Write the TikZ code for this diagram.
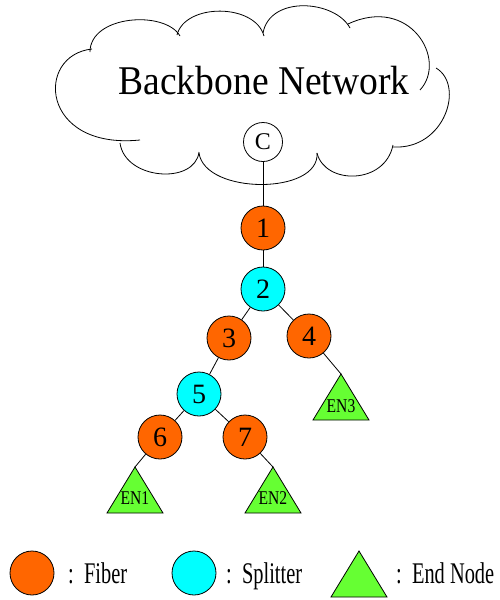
\documentclass[tikz,border=0pt]{standalone}
\usepackage{fontspec}
\usepackage{graphicx}
\setmainfont{Liberation Serif}
\definecolor{fibercol}{HTML}{FF6600}
\definecolor{splitcol}{HTML}{00FFFF}
\definecolor{endcol}{HTML}{66FF33}
\newcommand{\narrow}[2]{\scalebox{#1}[1]{#2}}
\begin{document}
\begin{tikzpicture}[x=1pt,y=-1pt,
  edge/.style={draw, line width=0.8pt},
  cloudline/.style={draw, line width=0.8pt},
  fiber/.style={circle, draw, line width=0.8pt, fill=fibercol, minimum size=44, inner sep=0,
    font=\fontsize{28}{30}\selectfont},
  splitter/.style={fiber, fill=splitcol},
  central/.style={circle, draw, line width=0.8pt, fill=white, minimum size=39, inner sep=0,
    font=\fontsize{24}{26}\selectfont},
  endnode/.style={draw, line width=0.8pt, fill=endcol},
  enlabel/.style={inner sep=0, font=\fontsize{19.5}{20}\selectfont},
  legtext/.style={anchor=base west, inner sep=0, font=\fontsize{30}{32}\selectfont},
]
\useasboundingbox (0,0) rectangle (500,600);

% backbone cloud, drawn as overlapping bumps
\draw[cloudline] (92,49) .. controls (35,55) and (40,150) .. (140,140);
\draw[cloudline] (120,143) .. controls (125,180) and (195,185) .. (199,152);
\draw[cloudline] (199,153) .. controls (205,195) and (320,195) .. (317,153);
\draw[cloudline] (317,153) .. controls (325,185) and (385,185) .. (393,145);
\draw[cloudline] (393,147) .. controls (445,150) and (465,85) .. (436,68);
\draw[cloudline] (420,90) .. controls (448,60) and (410,-5) .. (348,24);
\draw[cloudline] (350,28) .. controls (335,0) and (270,-5) .. (263,33);
\draw[cloudline] (264,36) .. controls (255,3) and (185,3) .. (177,35);
\draw[cloudline] (180,36) .. controls (165,10) and (90,15) .. (90,52);

\node[anchor=base, inner sep=0, font=\fontsize{40.8}{42}\selectfont] (title) at (264,94)
  {\narrow{0.92}{Backbone Network}};

% tree nodes
\node[central] (c) at (263,142) {C};
\node[fiber] (n1) at (263,228) {1};
\node[splitter] (n2) at (263,289) {2};
\node[fiber] (n3) at (229,338) {3};
\node[fiber] (n4) at (309,336) {4};
\node[splitter] (n5) at (199,394) {5};
\node[fiber] (n6) at (160,437) {6};
\node[fiber] (n7) at (245,437) {7};

% end nodes
\draw[endnode] (135,467) coordinate (en1) -- ++(28,46) -- ++(-56,0) -- cycle;
\draw[endnode] (273,467) coordinate (en2) -- ++(28,46) -- ++(-56,0) -- cycle;
\draw[endnode] (341,374) coordinate (en3) -- ++(28,46) -- ++(-56,0) -- cycle;
\node[enlabel] (l1) at (135,498) {\narrow{0.8}{EN1}};
\node[enlabel] (l2) at (273,498) {\narrow{0.8}{EN2}};
\node[enlabel] (l3) at (341,406) {\narrow{0.8}{EN3}};

% connections
\draw[edge] (c) -- (n1);
\draw[edge] (n1) -- (n2);
\draw[edge] (n2) -- (n3);
\draw[edge] (n2) -- (n4);
\draw[edge] (n3) -- (n5);
\draw[edge] (n5) -- (n6);
\draw[edge] (n5) -- (n7);
\draw[edge] (n6) -- (en1);
\draw[edge] (n7) -- (en2);
\draw[edge] (n4) -- (en3);

% legend
\node[fiber] (kf) at (32,573) {};
\node[legtext] (kft) at (68,583) {\narrow{0.68}{:\ \ Fiber}};
\node[splitter] (ks) at (194,573) {};
\node[legtext] (kst) at (226,583) {\narrow{0.68}{:\ \ Splitter}};
\draw[endnode] (359,551) coordinate (ke) -- ++(28,46) -- ++(-56,0) -- cycle;
\node[legtext] (ket) at (396,583) {\narrow{0.68}{:\ \ End Node}};
\end{tikzpicture}
\end{document}
